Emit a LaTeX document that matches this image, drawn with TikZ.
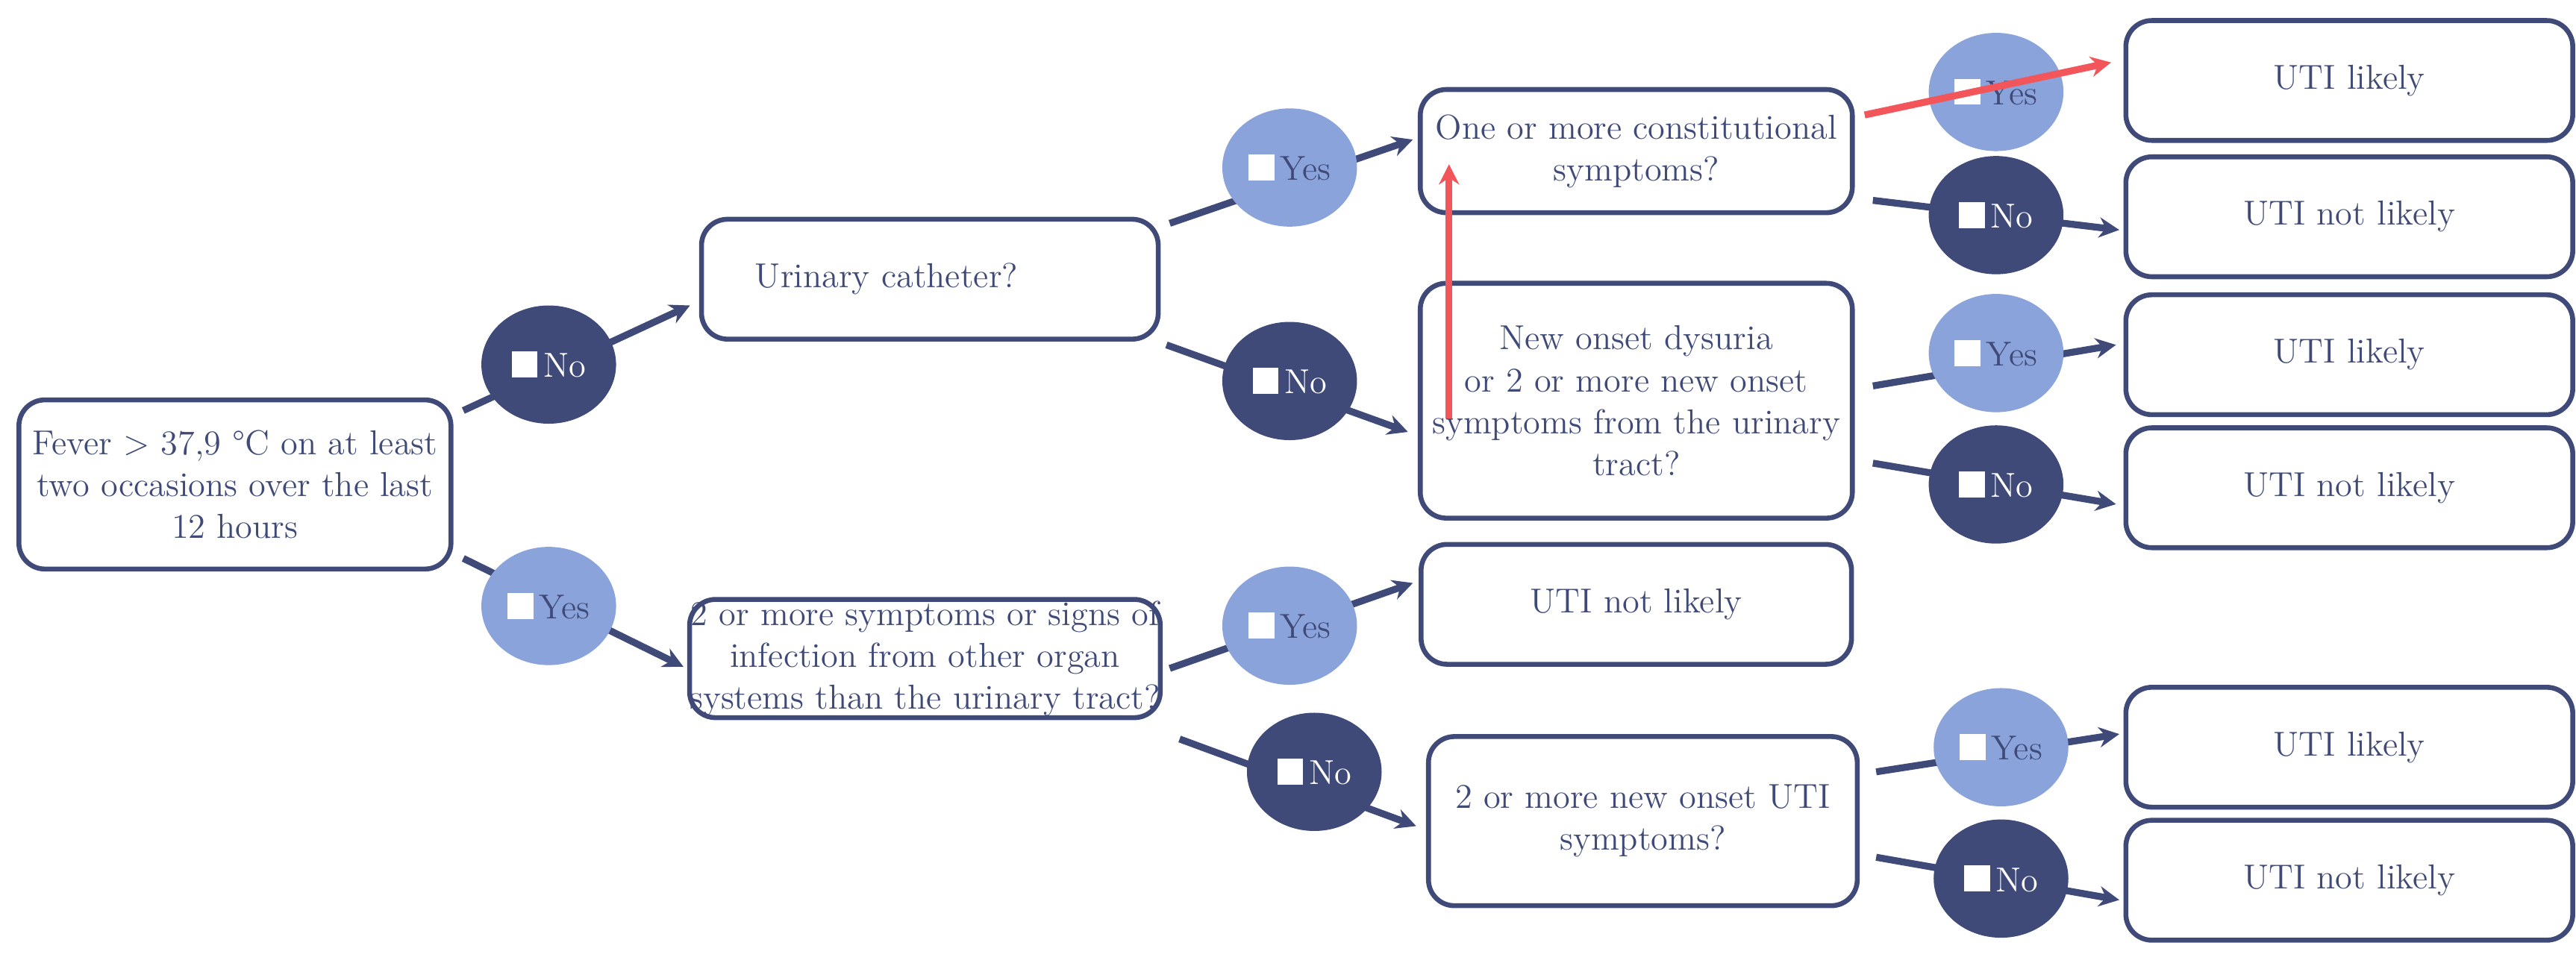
\documentclass[tikz,border=0pt]{standalone}
\usetikzlibrary{shapes.geometric,arrows.meta}
\definecolor{navy}{HTML}{3F4A78}
\definecolor{lightb}{HTML}{8AA3DB}
\definecolor{redc}{HTML}{F2555A}
\begin{document}
\begin{tikzpicture}[x=0.02cm,y=-0.02cm,
  box/.style={draw=navy,line width=1.7pt,rounded corners=9pt,text=navy,align=center,font=\fontsize{12}{14.5}\selectfont,inner sep=0pt},
  ell/.style={ellipse,minimum width=82*0.02cm,minimum height=72*0.02cm,inner sep=0pt,font=\fontsize{12}{14}\selectfont},
  yes/.style={ell,fill=lightb,text=navy},
  no/.style={ell,fill=navy,text=white},
  conn/.style={draw=navy,line width=2.4pt,-{Stealth[length=7pt,width=7pt]}},
  red/.style={draw=redc,line width=2.4pt,-{Stealth[length=7pt,width=7pt]}}]
\newcommand{\cb}{\textcolor{white}{\rule{9pt}{9pt}}\,}
\useasboundingbox (0,0) rectangle (1568,586);
% boxes
\node[box,minimum width=263*0.02cm,minimum height=103*0.02cm] (fever) at (143,295) {Fever > 37,9 °C on at least\\two occasions over the last\\12 hours};
\node[box,minimum width=278*0.02cm,minimum height=73*0.02cm] (cath) at (566,170) {\hspace*{-30pt}Urinary catheter?};
\node[box,minimum width=277*0.02cm,minimum height=72*0.02cm] (other) at (563,401) {2 or more symptoms or signs of\\infection from other organ\\systems than the urinary tract?};
\node[box,minimum width=263*0.02cm,minimum height=75*0.02cm] (const) at (996,92) {One or more constitutional\\symptoms?};
\node[box,minimum width=263*0.02cm,minimum height=143*0.02cm] (dys) at (996,244) {New onset dysuria\\or 2 or more new onset\\symptoms from the urinary\\tract?};
\node[box,minimum width=262*0.02cm,minimum height=73*0.02cm] (r0) at (996,368) {UTI not likely};
\node[box,minimum width=261*0.02cm,minimum height=103*0.02cm] (uti) at (1000,500) {2 or more new onset UTI\\symptoms?};
\foreach \n/\y/\t in {r1/49/UTI likely,r2/132/UTI not likely,r3/216/UTI likely,r4/297/UTI not likely,r5/455/UTI likely,r6/536/UTI not likely}
  \node[box,minimum width=272*0.02cm,minimum height=73*0.02cm] (\n) at (1430,\y) {\t};
% connector endpoints
\coordinate (a1) at (282,250); \coordinate (a2) at (420,186);
\coordinate (b1) at (282,340); \coordinate (b2) at (416,406);
\coordinate (c1) at (712,136); \coordinate (c2) at (860,85);
\coordinate (d1) at (710,210); \coordinate (d2) at (857,263);
\coordinate (e1) at (712,407); \coordinate (e2) at (860,355);
\coordinate (f1) at (718,450); \coordinate (f2) at (862,503);
\coordinate (g1) at (1140,122); \coordinate (g2) at (1290,140);
\coordinate (h1) at (1140,235); \coordinate (h2) at (1288,210);
\coordinate (i1) at (1140,282); \coordinate (i2) at (1288,307);
\coordinate (j1) at (1142,470); \coordinate (j2) at (1290,447);
\coordinate (k1) at (1142,522); \coordinate (k2) at (1290,548);
\coordinate (l1) at (1135,70); \coordinate (l2) at (1285,38);
\coordinate (m1) at (882,255); \coordinate (m2) at (882,100);
\foreach \p in {a,b,c,d,e,f,g,h,i,j,k} \draw[conn] (\p1) -- (\p2);
% decision ellipses
\node[no] (n1) at (334,222) {\cb No};
\node[yes] (y1) at (334,369) {\cb Yes};
\node[yes] (y2) at (785,102) {\cb Yes};
\node[no] (n2) at (785,232) {\cb No};
\node[yes] (y3) at (785,381) {\cb Yes};
\node[no] (n3) at (800,470) {\cb No};
\node[yes] (y4) at (1215,56) {\cb Yes};
\node[no] (n4) at (1215,131) {\cb No};
\node[yes] (y5) at (1215,215) {\cb Yes};
\node[no] (n5) at (1215,295) {\cb No};
\node[yes] (y6) at (1218,455) {\cb Yes};
\node[no] (n6) at (1218,535) {\cb No};
% red arrows
\draw[red] (l1) -- (l2);
\draw[red] (m1) -- (m2);
\end{tikzpicture}
\end{document}
